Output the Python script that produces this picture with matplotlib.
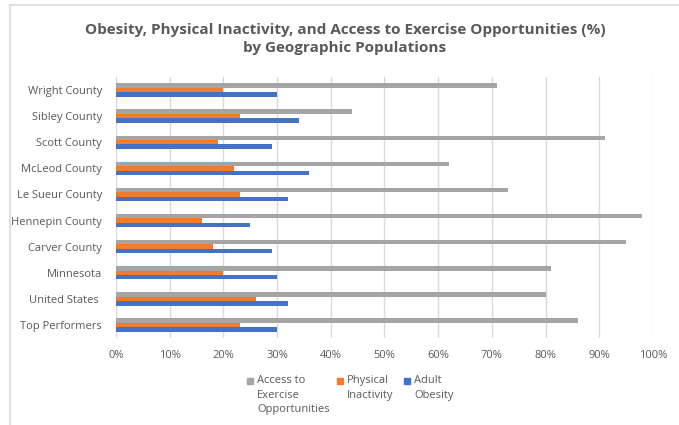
import numpy as np
import matplotlib.pyplot as plt
from matplotlib.patches import Rectangle
from matplotlib.lines import Line2D

plt.rcParams['font.family'] = ['Open Sans', 'DejaVu Sans']

places = ["Top Performers", "United States ", "Minnesota", "Carver County", "Hennepin County",
          "Le Sueur County", "McLeod County", "Scott County", "Sibley County", "Wright County"]
access = [86, 80, 81, 95, 98, 73, 62, 91, 44, 71]
inactivity = [23, 26, 20, 18, 16, 23, 22, 19, 23, 20]
obesity = [30, 32, 30, 29, 25, 32, 36, 29, 34, 30]

series_names = ["Access to\nExercise\nOpportunities", "Physical\nInactivity", "Adult\nObesity"]
colors = ["#A5A5A5", "#ED7D31", "#4472C4"]
txt = "#595959"

fig = plt.figure(figsize=(6.79, 4.25), dpi=100)
ax = fig.add_axes([116/679, 1-338/425, 537/679, 261/425])

y = np.arange(len(places))
h = 0.17
ax.barh(y + h, access, h, color=colors[0], zorder=3)
ax.barh(y, inactivity, h, color=colors[1], zorder=3)
ax.barh(y - h, obesity, h, color=colors[2], zorder=3)

ax.set_xlim(0, 100)
ax.set_ylim(-0.5, len(places) - 0.5)
ax.set_xticks(np.arange(0, 101, 10))
ax.set_xticklabels([f"{v}%" for v in range(0, 101, 10)])
ax.set_yticks(y)
ax.set_yticklabels(places)
ax.tick_params(axis='both', length=0, labelsize=8, colors=txt)
ax.tick_params(axis='x', pad=9)
ax.tick_params(axis='y', pad=10)
ax.grid(axis='x', color="#D9D9D9", lw=1, zorder=0)
for s in ax.spines.values():
    s.set_visible(False)

fig.text(0.508, 1-39/425, "Obesity, Physical Inactivity, and Access to Exercise Opportunities (%)\nby Geographic Populations",
         ha='center', va='center', fontsize=11, fontweight='bold', color=txt, linespacing=1.45)

# legend, square at the first line of each label
leg_x = [247, 337, 404]
for lx, name, c in zip(leg_x, series_names, colors):
    fig.patches.append(Rectangle((lx/679, 1-384/425), 6/679, 6/425,
                                 transform=fig.transFigure, color=c, figure=fig))
    fig.text((lx + 10)/679, 1-375/425, name, ha='left', va='top', fontsize=8,
             color=txt, linespacing=1.45)

# chart frame (top and left edges)
fig.add_artist(Line2D([10/679, 1], [1-5/425, 1-5/425], color="#D9D9D9", lw=1.2))
fig.add_artist(Line2D([10/679, 10/679], [0, 1-5/425], color="#D9D9D9", lw=1.2))

fig.savefig("out.png", dpi=100, facecolor="white")
